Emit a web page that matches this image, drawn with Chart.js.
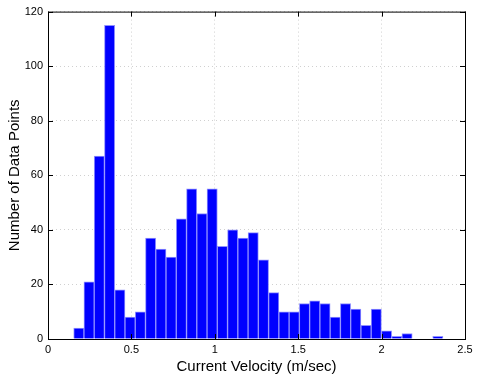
<!DOCTYPE html>
<html>
<head>
<meta charset="utf-8">
<script src="https://cdn.jsdelivr.net/npm/chart.js@4.4.1/dist/chart.umd.min.js"></script>
<style>
  html, body { margin: 0; padding: 0; background: #fff; }
  #wrap { width: 477px; height: 376px; }
</style>
</head>
<body>
<div id="wrap"><canvas id="chart" width="477" height="376"></canvas></div>
<script>
// Histogram bins (m/sec) and counts
const binStart = 0.154;
const binWidth = 0.0615;
const counts = [4, 21, 67, 115, 18, 8, 10, 37, 33, 30, 44, 55, 46, 55, 34, 40, 37, 39,
    29, 17, 10, 10, 13, 14, 13, 8, 13, 11, 5, 11, 3, 1, 2, 0, 0, 1];
const xTicks = [0, 0.5, 1, 1.5, 2, 2.5];
const yTicks = [0, 20, 40, 60, 80, 100, 120];

const binCenters = counts.map((c, i) => binStart + binWidth * (i + 0.5));
const points = counts.map((c, i) => ({ x: binCenters[i], y: c }));

const FONT = 'Helvetica, "Liberation Sans", Arial, sans-serif';

// Black box round the plot with short inward ticks on all four sides
const frameBox = {
    id: 'frameBox',
    afterDraw(chart) {
        const { ctx, chartArea: a, scales } = chart;
        ctx.save();
        ctx.strokeStyle = '#000';
        ctx.lineWidth = 1;
        ctx.strokeRect(a.left + 0.5, a.top + 0.5, a.right - a.left, a.bottom - a.top);
        ctx.beginPath();
        const t = 5;
        xTicks.forEach(v => {
            const px = Math.round(scales.x.getPixelForValue(v)) + 0.5;
            ctx.moveTo(px, a.bottom); ctx.lineTo(px, a.bottom - t);
            ctx.moveTo(px, a.top); ctx.lineTo(px, a.top + t);
        });
        yTicks.forEach(v => {
            const py = Math.round(scales.y.getPixelForValue(v)) + 0.5;
            ctx.moveTo(a.left, py); ctx.lineTo(a.left + t, py);
            ctx.moveTo(a.right, py); ctx.lineTo(a.right - t, py);
        });
        ctx.stroke();
        ctx.restore();
    }
};

new Chart(document.getElementById('chart').getContext('2d'), {
    type: 'bar',
    data: {
        datasets: [{
            data: points,
            backgroundColor: '#0000ff',
            borderColor: '#9090ff',
            borderWidth: 1,
            barPercentage: 1,
            categoryPercentage: 1
        }]
    },
    options: {
        responsive: false,
        animation: false,
        layout: { padding: { top: 10, right: 12, left: 0, bottom: 0 } },
        plugins: { legend: { display: false }, tooltip: { enabled: false } },
        scales: {
            x: {
                type: 'linear',
                min: 0,
                max: 2.5,
                offset: false,
                afterBuildTicks: s => { s.ticks = xTicks.map(v => ({ value: v })); },
                afterFit: s => { s.height = 37; },
                grid: { color: '#d0d0d0', drawTicks: false, lineWidth: 1, offset: false },
                border: { display: false, dash: [1, 3] },
                ticks: {
                    color: '#000',
                    padding: 4,
                    maxRotation: 0,
                    font: { family: FONT, size: 11 },
                    callback: v => String(v)
                },
                title: {
                    display: true,
                    text: 'Current Velocity (m/sec)',
                    color: '#000',
                    padding: { top: 0, bottom: 0 },
                    font: { family: FONT, size: 15 }
                }
            },
            y: {
                min: 0,
                max: 120,
                afterBuildTicks: s => { s.ticks = yTicks.map(v => ({ value: v })); },
                afterFit: s => { s.width = 48; },
                grid: { color: '#d0d0d0', drawTicks: false, lineWidth: 1 },
                border: { display: false, dash: [1, 3] },
                ticks: {
                    color: '#000',
                    padding: 5,
                    font: { family: FONT, size: 11 }
                },
                title: {
                    display: true,
                    text: 'Number of Data Points',
                    color: '#000',
                    padding: { top: 6, bottom: 0 },
                    font: { family: FONT, size: 15 }
                }
            }
        }
    },
    plugins: [frameBox]
});
</script>
</body>
</html>
